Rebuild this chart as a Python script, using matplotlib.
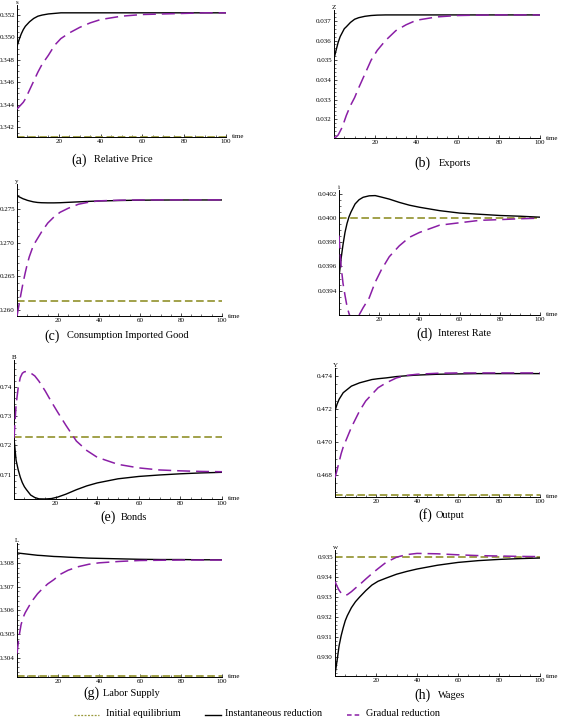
import numpy as np
import matplotlib
matplotlib.use("Agg")
import matplotlib.pyplot as plt
from matplotlib.ticker import FixedLocator, MultipleLocator, FormatStrFormatter
from matplotlib.lines import Line2D

plt.rcParams['font.family'] = ['Liberation Serif', 'DejaVu Serif']

# time grid (periods)
t = [0, 1, 2, 3, 4, 5, 6, 8, 10, 12, 15, 18, 21, 25, 30, 35, 40, 50, 60, 70, 80, 90, 100]

# (a) relative price s
s_inst = [.3492, .3498, .3503, .3507, .3510, .3512, .3514, .3517, .3519, .3520, .3521, .35215, .3522,
          .3522, .3522, .3522, .3522, .3522, .3522, .3522, .3522, .3522, .3522]
s_grad = [.3436, .3438, .3440, .3442, .3445, .3449, .3453, .3461, .3469, .3476, .3484, .3493, .3499,
          .3504, .3509, .3513, .3516, .3519, .35205, .3521, .35215, .3522, .3522]
s_init = 0.3411

# (b) exports Z
z_inst = [.03508, .0355, .0359, .0362, .0364, .0366, .0367, .03692, .03708, .03716, .03723, .03727, .03729,
          .0373, .0373, .0373, .0373, .0373, .0373, .0373, .0373, .0373, .0373]
z_grad = [.03107, .0311, .0312, .0314, .0316, .0319, .0322, .0327, .0331, .0336, .0343, .0350, .0355,
          .0360, .0365, .0368, .03703, .03720, .03727, .03729, .0373, .0373, .0373]
z_init = None

# (c) consumption of imported good y
y_inst = [.27697, .2768, .27665, .2765, .2764, .27628, .2762, .27605, .27596, .27592, .2759, .2759, .27592,
          .27598, .27605, .27612, .27618, .27625, .2763, .27632, .27633, .27633, .27633]
y_grad = [.2591, .2608, .2625, .2641, .2655, .2668, .2679, .2696, .2706, .2716, .2729, .2738, .2745,
          .2751, .2757, .2760, .2762, .2763, .27633, .27634, .27634, .27634, .27634]
y_init = 0.26138

# (d) interest rate i
i_inst = [.039512, .03966, .03978, .039882, .039955, .04001, .04005, .040115, .04015, .04017, .040182,
          .040184, .040172, .040155, .040128, .040105, .040088, .04006, .04004, .04003, .04002, .040014, .040006]
i_grad = [.039855, .03961, .03946, .03936, .03927, .03921, .03917, .03916, .03920, .03926, .03934, .03947,
          .03957, .03968, .03977, .03984, .03988, .03994, .03996, .03998, .039986, .039993, .039998]
i_init = 0.0400

# (e) bonds B
b_inst = [.7225, .7150, .7118, .7093, .7074, .7060, .7050, .7032, .70235, .7019, .70185, .7020, .7025,
          .7035, .7050, .7063, .7073, .7087, .7095, .7100, .7104, .7107, .7109]
b_grad = [.7225, .7338, .7395, .7430, .7445, .7450, .7451, .7446, .7436, .7418, .7385, .7348, .7313,
          .7268, .7215, .7183, .7160, .7136, .7124, .7117, .7114, .7112, .7111]
b_init = 0.7228

# (f) output Y
out_inst = [.4719, .4723, .4726, .4728, .4730, .4731, .4732, .4734, .4735, .4736, .4737, .4738, .47385,
            .4739, .47398, .47403, .47407, .47412, .47414, .47416, .47416, .47416, .47416]
out_grad = [.46784, .4683, .4688, .4693, .4697, .4700, .4703, .4709, .4714, .4719, .4725, .4729, .4733,
            .4736, .4739, .47405, .47412, .47418, .4742, .4742, .4742, .4742, .4742]
out_init = 0.4668

# (g) labor supply L
l_inst = [.30843, .30842, .30841, .30840, .30839, .30838, .30837, .30835, .30833, .30832, .30830, .30828,
          .30827, .30825, .30823, .30821, .30820, .30818, .30816, .30815, .30815, .30814, .30814]
l_grad = [.30417, .3049, .3054, .3057, .3059, .30605, .3062, .30647, .3067, .30688, .30712, .3073, .30752,
          .3077, .30785, .30795, .30801, .30807, .30811, .30812, .30813, .30813, .30813]
l_init = 0.30322

# (h) wages w
w_inst = [.92912, .9298, .93055, .93105, .93145, .9318, .93205, .93245, .93275, .93298, .9333, .93358,
          .93377, .93393, .93412, .93426, .93438, .93457, .93471, .9348, .93486, .9349, .93493]
w_grad = [.93376, .93352, .93332, .93318, .9331, .93307, .9331, .93325, .93343, .9336, .93388, .93415,
          .9344, .93472, .93497, .9351, .93516, .93514, .93509, .93505, .93503, .93501, .935]
w_init = 0.93497

captions = ["Relative Price", "Exports", "Consumption Imported Good", "Interest Rate",
            "Bonds", "Output", "Labor Supply", "Wages"]
letters = ["a", "b", "c", "d", "e", "f", "g", "h"]
var_names = ["s", "Z", "y", "i", "B", "Y", "L", "w"]
x_ticks = [20, 40, 60, 80, 100]

OLIVE = '#9a9a3c'
PURPLE = '#8a1ea6'
W, H = 562, 721

# panel boxes in pixels: left, right, top, bottom, ylim, yticks, minor step, format, caption x's, caption y
panels = [
    (17, 226, 5, 137, (0.3411, 0.3529), [.342, .344, .346, .348, .350, .352], 0.0005, '%.3f', 71, 94, 160,
     s_inst, s_grad, s_init),
    (334, 540, 10, 138, (0.03105, 0.03755), [.032, .033, .034, .035, .036, .037], 0.0002, '%.3f', 414, 439, 163,
     z_inst, z_grad, z_init),
    (17, 222, 184, 316, (0.25911, 0.2787), [.260, .265, .270, .275], 0.001, '%.3f', 44, 67, 336,
     y_inst, y_grad, y_init),
    (339, 540, 190, 315, (0.0392, 0.04023), [.0394, .0396, .0398, .0400, .0402], 0.00005, '%.4f', 416, 438, 334,
     i_inst, i_grad, i_init),
    (14, 222, 360, 499, (0.70185, 0.749), [.71, .72, .73, .74], 0.002, '%.2f', 100, 121, 517,
     b_inst, b_grad, b_init),
    (335, 540, 368, 497, (0.46667, 0.4745), [.468, .470, .472, .474], 0.0005, '%.3f', 418, 436, 515,
     out_inst, out_grad, out_init),
    (17, 222, 543, 677, (0.30318, 0.30885), [.304, .305, .306, .307, .308], 0.0002, '%.3f', 83, 103, 693,
     l_inst, l_grad, l_init),
    (335, 540, 550, 676, (0.92904, 0.93533), [.930, .931, .932, .933, .934, .935], 0.0002, '%.3f', 414, 438, 695,
     w_inst, w_grad, w_init),
]

fig = plt.figure(figsize=(W / 100, H / 100), dpi=100)

for k, (l, r, top, bot, ylim, yt, ystep, fmt, cx1, cx2, cy, inst, grad, init) in enumerate(panels):
    ax = fig.add_axes([l / W, 1 - bot / H, (r - l) / W, (bot - top) / H])
    ax.set_xlim(0, 100)
    ax.set_ylim(*ylim)
    if init is not None:
        ax.plot([0, 100], [init, init], color=OLIVE, lw=1.3, linestyle=(0, (4.2, 2.0)), clip_on=False, zorder=2)
    ax.plot(t, inst, color='black', lw=1.0, zorder=3)
    ax.plot(t, grad, color=PURPLE, lw=1.1, linestyle=(0, (8.5, 3.9)), zorder=4)

    for side in ['top', 'right']:
        ax.spines[side].set_visible(False)
    for side in ['left', 'bottom']:
        ax.spines[side].set_linewidth(0.7)

    ax.xaxis.set_major_locator(FixedLocator(x_ticks))
    ax.xaxis.set_minor_locator(MultipleLocator(5))
    ax.yaxis.set_major_locator(FixedLocator(yt))
    ax.yaxis.set_minor_locator(MultipleLocator(ystep))
    ax.yaxis.set_major_formatter(FormatStrFormatter(fmt))
    ax.tick_params(which='major', direction='in', length=2.5, width=0.5, labelsize=5, pad=1.5)
    ax.tick_params(which='minor', direction='in', length=1.3, width=0.4)
    ax.patch.set_alpha(0)

    ax.text(0, 1, var_names[k], transform=ax.transAxes, ha='center', va='bottom', fontsize=5)
    ax.annotate('time', xy=(1, 0), xycoords='axes fraction', xytext=(4, 0), textcoords='offset points',
                ha='left', va='center', fontsize=5)

    fig.text(cx1 / W, 1 - cy / H, '(%s)' % letters[k], ha='left', va='center', fontsize=10)
    fig.text(cx2 / W, 1 - cy / H, captions[k], ha='left', va='center', fontsize=7.5)

# legend row at the bottom
leg_y = 1 - 714 / H
legend_items = [
    (74, 99, 106, OLIVE, (0, (1.5, 1.2)), 0.9, "Initial equilibrium"),
    (205, 221, 225, 'black', '-', 1.0, "Instantaneous reduction"),
    (347, 362, 366, PURPLE, (0, (3.0, 2.0)), 1.1, "Gradual reduction"),
]
for x0, x1, xt, col, ls, lw, lab in legend_items:
    fig.add_artist(Line2D([x0 / W, x1 / W], [leg_y - 0.002, leg_y - 0.002], color=col, lw=lw, linestyle=ls,
                          transform=fig.transFigure))
    fig.text(xt / W, leg_y, lab, ha='left', va='center', fontsize=7.3)

fig.savefig('out.png', dpi=100)
